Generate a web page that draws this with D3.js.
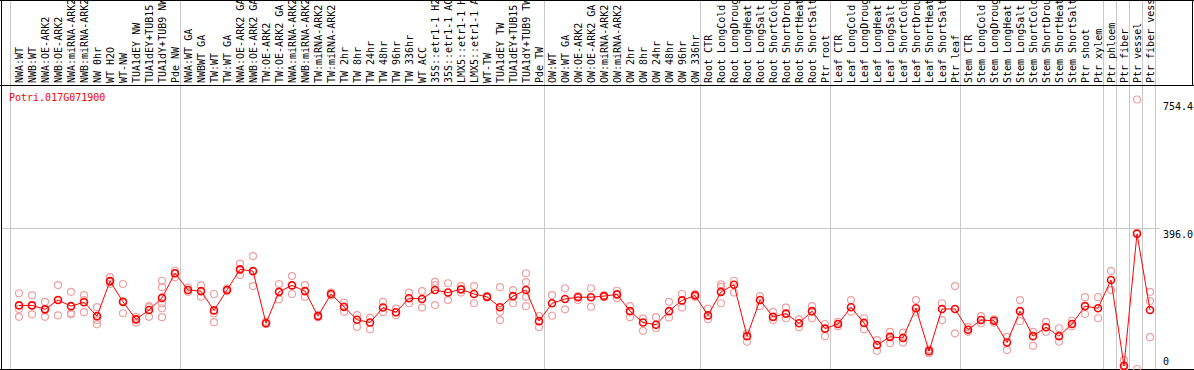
<!DOCTYPE html>
<html>
<head>
<meta charset="utf-8">
<script src="https://cdn.jsdelivr.net/npm/d3@7"></script>
<style>
  body { margin: 0; background: #fff; }
  text { font-family: "DejaVu Sans Mono", "Liberation Mono", monospace; font-size: 10px; }
</style>
</head>
<body>
<script>
// sample names, one per column
var samples = [
  "NWA:WT", "NWB:WT", "NWA:OE-ARK2", "NWB:OE-ARK2", "NWA:miRNA-ARK2", "NWB:miRNA-ARK2",
  "NW 0hr", "WT H2O", "WT-NW", "TUA1dEY NW", "TUA1dEY+TUB15", "TUA1dY+TUB9 NW", "Pde NW",
  "NWA:WT GA", "NWBWT GA", "TW:WT", "TW:WT GA", "NWA:OE-ARK2 GA", "NWB:OE-ARK2 GA",
  "TW:OE-ARK2", "TW:OE-ARK2 GA", "NWA:miRNA-ARK2 GA", "NWB:miRNA-ARK2 GA", "TW:miRNA-ARK2",
  "TW:miRNA-ARK2", "TW 2hr", "TW 8hr", "TW 24hr", "TW 48hr", "TW 96hr", "TW 336hr", "WT ACC",
  "35S::etr1-1 H2O", "35S::etr1-1 ACC", "LMX5::etr1-1 H2O", "LMX5::etr1-1 ACC", "WT-TW",
  "TUA1dEY TW", "TUA1dEY+TUB15", "TUA1dY+TUB9 TW", "Pde TW",
  "OW:WT", "OW:WT GA", "OW:OE-ARK2", "OW:OE-ARK2 GA", "OW:miRNA-ARK2", "OW:miRNA-ARK2",
  "OW 2hr", "OW 8hr", "OW 24hr", "OW 48hr", "OW 96hr", "OW 336hr",
  "Root CTR", "Root LongCold", "Root LongDrought", "Root LongHeat", "Root LongSalt",
  "Root ShortCold", "Root ShortDrought", "Root ShortHeat", "Root ShortSalt", "Ptr root",
  "Leaf CTR", "Leaf LongCold", "Leaf LongDrought", "Leaf LongHeat", "Leaf LongSalt",
  "Leaf ShortCold", "Leaf ShortDrought", "Leaf ShortHeat", "Leaf ShortSalt", "Ptr leaf",
  "Stem CTR", "Stem LongCold", "Stem LongDrought", "Stem LongHeat", "Stem LongSalt",
  "Stem ShortCold", "Stem ShortDrought", "Stem ShortHeat", "Stem ShortSalt", "Ptr shoot",
  "Ptr xylem", "Ptr phloem", "Ptr fiber", "Ptr vessel", "Ptr fiber vessel"
];

// mean expression per sample
var means = [
  178, 178, 167, 193, 176, 187, 148, 246, 188, 139, 165, 199, 268,
  221, 218, 164, 221, 279, 274, 128, 216, 234, 218, 148, 210, 174, 138, 130, 172, 159,
  198, 196, 221, 214, 223, 210, 202, 173, 204, 221, 134,
  184, 196, 201, 201, 204, 209, 162, 130, 124, 162, 192, 206,
  150, 216, 236, 92, 193, 146, 155, 128, 162, 113,
  126, 173, 129, 67, 90, 87, 170, 50, 168, 168,
  110, 137, 135, 74, 162, 92, 117, 92, 126, 176,
  170, 249, 9, 378.5, 165
];

// replicate values per sample
var replicates = [
  [212, 168, 146], [206, 179, 153], [188, 168, 146], [235, 193, 150], [216, 156, 153],
  [207, 193, 159], [173, 137, 125], [257, 244, 238], [238, 188, 156], [146, 140, 130],
  [176, 173, 146], [247, 229, 184, 170, 145], [275, 268, 257],
  [228, 216], [234, 202], [210, 156, 131], [225, 218], [295, 276, 263], [316, 232],
  [132, 126], [238, 195], [260, 210], [235, 202], [151, 145], [214, 206], [186, 160],
  [151, 118], [144, 111], [188, 159], [169, 151], [214, 184], [218, 172],
  [244, 235, 179], [240, 193], [232, 214], [232, 184], [204, 201], [229, 160, 137],
  [221, 184], [268, 243, 202, 176], [148, 117],
  [207, 149], [226, 167], [204, 193], [226, 174], [206, 201], [219, 198], [176, 145],
  [141, 107], [145, 114], [188, 144], [210, 172], [210, 202],
  [169, 139], [237, 230, 184], [247, 214], [100, 76], [204, 176], [160, 137], [172, 142],
  [139, 117], [176, 142], [126, 92],
  [132, 120], [193, 160], [142, 111], [81, 51], [104, 72], [102, 74], [193, 160],
  [55, 44], [184, 137], [232, 100],
  [117, 104], [148, 128], [139, 130], [90, 53], [193, 134], [104, 65], [132, 104],
  [114, 76], [135, 120], [201, 154],
  [201, 142], [274, 221], [25, 5, 0], [754.4, 381, 0], [216, 190, 89]
];

// last column index of each sample group (separator drawn after it)
var groupEnds = [12, 40, 52, 62, 72, 83, 84, 85, 86, 87];

// value axis labels
var yTicks = [754.4, 396.0, 0];
var geneName = "Potri.017G071900";

var w = 1194, h = 370;
var headerBottom = 85;

var svg = d3.select("body").append("svg")
    .attr("width", w)
    .attr("height", h);

var x = d3.scaleLinear()
    .domain([0, samples.length - 1])
    .range([19, 1150]);

var y = d3.scaleLinear()
    .domain([0, 754.4])
    .range([369, 99.5]);

// group separators (full height)
var seps = [x(0) - 9].concat(groupEnds.map(function(i){ return x(i) + 5.3; }));
svg.selectAll(".sep")
    .data(seps)
    .enter().append("line")
    .attr("class", "sep")
    .attr("x1", function(d){ return Math.round(d) + 0.5; })
    .attr("x2", function(d){ return Math.round(d) + 0.5; })
    .attr("y1", 0)
    .attr("y2", h)
    .style("stroke", "#c8c8c8")
    .style("stroke-width", 1);

// horizontal grid at 396
svg.append("line")
    .attr("x1", 1).attr("x2", 1160)
    .attr("y1", Math.round(y(396)) + 0.5)
    .attr("y2", Math.round(y(396)) + 0.5)
    .style("stroke", "#c8c8c8");

// frame
svg.append("line").attr("x1", 0).attr("x2", w).attr("y1", 0.5).attr("y2", 0.5).style("stroke", "#000");
svg.append("line").attr("x1", 0).attr("x2", w).attr("y1", headerBottom + 0.5).attr("y2", headerBottom + 0.5).style("stroke", "#000");
svg.append("line").attr("x1", 0).attr("x2", w).attr("y1", h - 0.5).attr("y2", h - 0.5).style("stroke", "#000");
svg.append("line").attr("x1", 1.5).attr("x2", 1.5).attr("y1", 0).attr("y2", h).style("stroke", "#000");
svg.append("line").attr("x1", 1192.5).attr("x2", 1192.5).attr("y1", 0).attr("y2", headerBottom).style("stroke", "#000");

// sample labels, rotated
svg.selectAll(".sample")
    .data(samples)
    .enter().append("text")
    .attr("class", "sample")
    .attr("transform", function(d, i){ return "translate(" + x(i) + "," + (headerBottom - 2) + ") rotate(-90)"; })
    .attr("dy", "0.35em")
    .style("fill", "#000")
    .text(function(d){ return d; });

// replicate points
var repPoints = [];
replicates.forEach(function(r, i){
    r.forEach(function(v){ repPoints.push({ i: i, v: v }); });
});
svg.selectAll(".rep")
    .data(repPoints)
    .enter().append("circle")
    .attr("class", "rep")
    .attr("cx", function(d){ return x(d.i); })
    .attr("cy", function(d){ return y(d.v); })
    .attr("r", 3.5)
    .style("fill", "none")
    .style("stroke", "#f0a0a0")
    .style("stroke-width", 1.2);

// mean line
var line = d3.line()
    .x(function(d, i){ return x(i); })
    .y(function(d){ return y(d); });
svg.append("path")
    .datum(means)
    .attr("d", line)
    .style("fill", "none")
    .style("stroke", "#ff0000")
    .style("stroke-width", 1);

// mean points
svg.selectAll(".mean")
    .data(means)
    .enter().append("circle")
    .attr("class", "mean")
    .attr("cx", function(d, i){ return x(i); })
    .attr("cy", function(d){ return y(d); })
    .attr("r", 3.5)
    .style("fill", "none")
    .style("stroke", "#ff0000")
    .style("stroke-width", 1.6);

// gene name
svg.append("text")
    .attr("x", 9)
    .attr("y", 101)
    .style("fill", "#ff0000")
    .text(geneName);

// value labels at right
svg.selectAll(".ylab")
    .data(yTicks)
    .enter().append("text")
    .attr("class", "ylab")
    .attr("x", 1163)
    .attr("y", function(d){ return d === 0 ? y(d) - 4 : y(d) + 10; })
    .style("fill", "#000")
    .text(function(d){ return d === 0 ? "0" : d.toFixed(1); });
</script>
</body>
</html>
